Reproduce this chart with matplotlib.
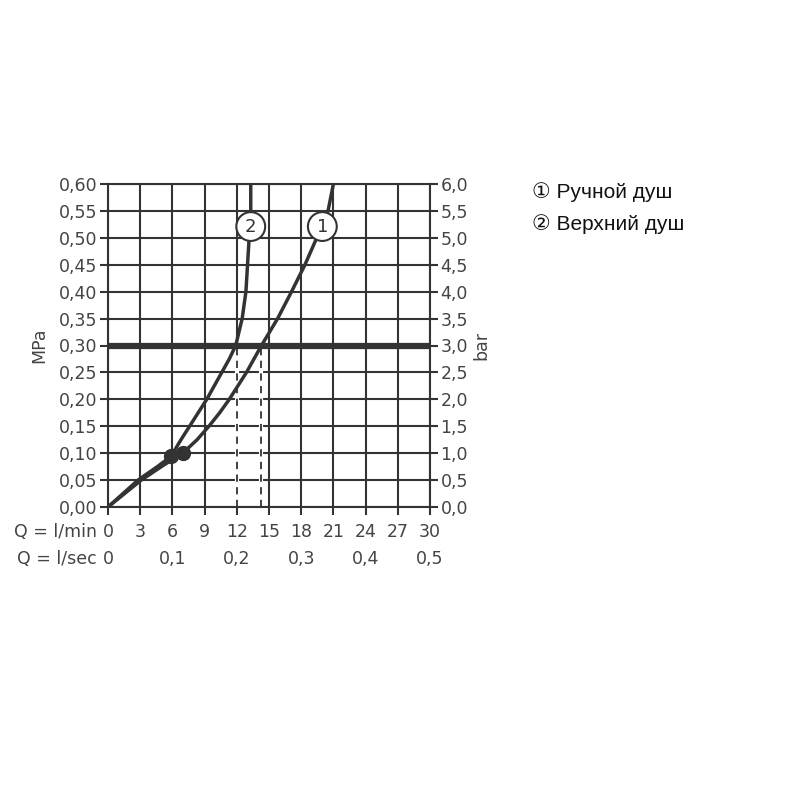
import matplotlib.pyplot as plt
from matplotlib.transforms import blended_transform_factory

# flow in l/min, pressure in MPa
curve1_q = [0, 3.1, 5.2, 6.96, 8.3, 9.4, 10.4, 11.3, 12.1, 12.9, 13.6, 14.3, 15.8, 17.1, 18.35, 19.45, 20.5, 21.0]
curve1_p = [0, 0.05, 0.078, 0.10, 0.125, 0.15, 0.175, 0.20, 0.225, 0.25, 0.275, 0.30, 0.35, 0.40, 0.45, 0.50, 0.55, 0.60]
curve2_q = [0, 2.8, 4.6, 5.87, 6.8, 7.6, 8.4, 9.2, 9.9, 10.6, 11.3, 11.9, 12.5, 12.85, 13.0, 13.15, 13.3, 13.3]
curve2_p = [0, 0.05, 0.075, 0.094, 0.125, 0.15, 0.175, 0.20, 0.225, 0.25, 0.275, 0.30, 0.35, 0.40, 0.45, 0.50, 0.55, 0.60]

dots_q = [6.96, 5.87]
dots_p = [0.10, 0.094]
labels_q = [19.97, 13.3]
labels_p = [0.521, 0.521]
label_txt = ["1", "2"]

ref_pressure = 0.30
dash_q = [12.0, 14.3]

lmin_ticks = [0, 3, 6, 9, 12, 15, 18, 21, 24, 27, 30]
lsec_pos = [0, 6, 12, 18, 24, 30]
lsec_txt = ["0", "0,1", "0,2", "0,3", "0,4", "0,5"]
mpa_ticks = [0.0, 0.05, 0.10, 0.15, 0.20, 0.25, 0.30, 0.35, 0.40, 0.45, 0.50, 0.55, 0.60]
bar_ticks = [0.0, 0.5, 1.0, 1.5, 2.0, 2.5, 3.0, 3.5, 4.0, 4.5, 5.0, 5.5, 6.0]
legend_txt = ["① Ручной душ", "② Верхний душ"]

dark = "#333333"
txt_col = "#444444"
tick_font = "DejaVu Sans"
fs = 12.5

fig = plt.figure(figsize=(8, 8), dpi=100)
ax = fig.add_axes([0.135, 0.36625, 0.4025, 0.40375])
ax.set_xlim(0, 30)
ax.set_ylim(0, 0.6)

# grid
for q in lmin_ticks:
    ax.axvline(q, color=dark, lw=1.5, zorder=1)
for p in mpa_ticks:
    ax.axhline(p, color=dark, lw=1.5, zorder=1)
for s in ax.spines.values():
    s.set_color(dark)
    s.set_linewidth(1.5)

ax.axhline(ref_pressure, color=dark, lw=4.5, zorder=3)

# dashed drop lines
for q in dash_q:
    ax.plot([q, q], [0, ref_pressure], color="white", lw=3, zorder=2)
    ax.plot([q, q], [0, ref_pressure], color=dark, lw=1.3, ls=(0, (4, 3)), zorder=2.1)

ax.plot(curve1_q, curve1_p, color=dark, lw=2.5, zorder=4, solid_joinstyle="round")
ax.plot(curve2_q, curve2_p, color=dark, lw=2.5, zorder=4, solid_joinstyle="round")
ax.plot(dots_q, dots_p, "o", color=dark, ms=10, zorder=5)

for q, p, t in zip(labels_q, labels_p, label_txt):
    ax.text(q, p, t, ha="center", va="center", fontsize=13, color=dark,
            family=tick_font, zorder=6,
            bbox=dict(boxstyle="circle,pad=0.3", fc="white", ec=dark, lw=1.5))

ax.set_xticks(lmin_ticks)
ax.set_xticklabels([])
ax.set_yticks(mpa_ticks)
ax.set_yticklabels([f"{v:.2f}".replace(".", ",") for v in mpa_ticks],
                   fontsize=fs, color=txt_col, family=tick_font)
ax.tick_params(axis="both", direction="out", length=6, width=1.5, color=dark, pad=1.5)

ax2 = ax.twinx()
ax2.set_ylim(0, 6)
ax2.set_yticks(bar_ticks)
ax2.set_yticklabels([f"{v:.1f}".replace(".", ",") for v in bar_ticks],
                    fontsize=fs, color=txt_col, family=tick_font)
ax2.tick_params(axis="y", direction="out", length=6, width=1.5, color=dark, pad=1.5)
for s in ax2.spines.values():
    s.set_visible(False)

ax.set_ylabel("MPa", fontsize=fs, color=txt_col, family=tick_font, labelpad=8)
ax2.set_ylabel("bar", fontsize=fs, color=txt_col, family=tick_font, rotation=90, labelpad=3)

# flow scales under the chart
tr = blended_transform_factory(ax.transData, ax.transAxes)
ax.text(-0.034, -0.077, "Q = l/min", transform=ax.transAxes, ha="right", va="center",
        fontsize=fs, color=txt_col, family=tick_font)
for q in lmin_ticks:
    ax.text(q, -0.077, str(q), transform=tr, ha="center", va="center",
            fontsize=fs, color=txt_col, family=tick_font)
ax.text(-0.034, -0.161, "Q = l/sec", transform=ax.transAxes, ha="right", va="center",
        fontsize=fs, color=txt_col, family=tick_font)
for q, t in zip(lsec_pos, lsec_txt):
    ax.text(q, -0.161, t, transform=tr, ha="center", va="center",
            fontsize=fs, color=txt_col, family=tick_font)

# legend text
fig.text(0.665, 0.76, legend_txt[0], fontsize=15, color="#111111",
         family=["Liberation Sans", "DejaVu Sans"], va="center")
fig.text(0.665, 0.72, legend_txt[1], fontsize=15, color="#111111",
         family=["Liberation Sans", "DejaVu Sans"], va="center")

fig.savefig("out.png", dpi=100)
